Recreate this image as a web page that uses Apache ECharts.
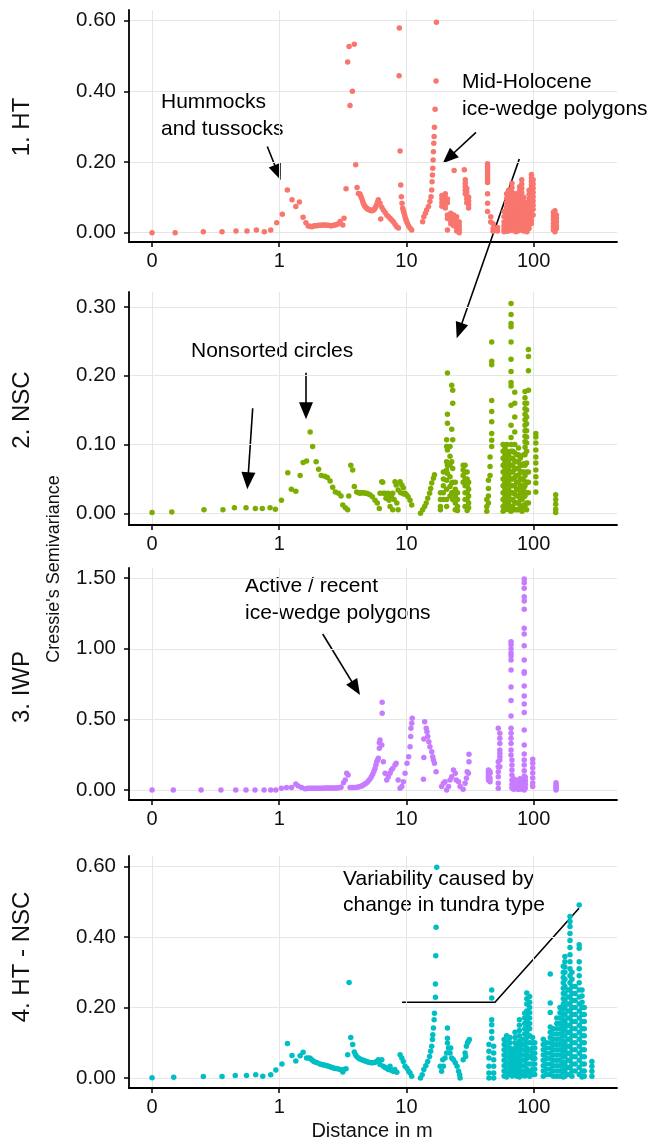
<!DOCTYPE html>
<html>
<head>
<meta charset="utf-8">
<script src="https://cdn.jsdelivr.net/npm/echarts@6/dist/echarts.min.js"></script>
<style>
  html, body { margin: 0; padding: 0; background: #fff; }
  #chart { width: 651px; height: 1143px; }
</style>
</head>
<body>
<div id="chart"></div>
<script>
// panel names, colours, ticks
const panelNames = ['1. HT', '2. NSC', '3. IWP', '4. HT - NSC'];
const panelColors = ['#F8766D', '#7CAE00', '#C77CFF', '#00BFC4'];
const xTicks = [0.1, 1, 10, 100];
const yTicks = [[0, 0.2, 0.4, 0.6], [0, 0.1, 0.2, 0.3], [0, 0.5, 1, 1.5], [0, 0.2, 0.4, 0.6]];
const yRanges = [[-0.0263, 0.630], [-0.017, 0.3216], [-0.0708, 1.572], [-0.0284, 0.630]];

// [distance, semivariance] single points, and columns [distance, [values]]
const htPoints = [
  [0.1, 0], [0.152, 0], [0.253, 0.003], [0.355, 0.003], [0.457, 0.005], [0.558, 0.005], [0.661, 0.008], [0.764, 0.003],
  [0.857, 0.008], [0.955, 0.028], [1.057, 0.052], [1.158, 0.121], [1.26, 0.093], [1.35, 0.074], [1.44, 0.087], [1.54, 0.044],
  [1.62, 0.028], [1.69, 0.019], [1.75, 0.018], [1.8, 0.017], [1.86, 0.019], [1.91, 0.02], [1.97, 0.02], [2.03, 0.021], [2.1, 0.021],
  [2.16, 0.021], [2.22, 0.022], [2.29, 0.022], [2.36, 0.021], [2.43, 0.021], [2.51, 0.02], [2.59, 0.02], [2.67, 0.021], [2.75, 0.022],
  [2.83, 0.023], [2.92, 0.025], [3.01, 0.032], [3.16, 0.022], [3.23, 0.041],
  [3.35, 0.124], [3.45, 0.483], [3.54, 0.527], [3.89, 0.533], [3.6, 0.36], [3.76, 0.4], [3.99, 0.192], [4.09, 0.128],
  [4.19, 0.111], [4.25, 0.11], [4.32, 0.109], [4.38, 0.103], [4.45, 0.097], [4.52, 0.09], [4.58, 0.083], [4.66, 0.078], [4.73, 0.074],
  [4.8, 0.071], [4.87, 0.069], [4.94, 0.067], [5.01, 0.066], [5.09, 0.065], [5.17, 0.064], [5.25, 0.063], [5.33, 0.062], [5.42, 0.063],
  [5.5, 0.064], [5.58, 0.066], [5.66, 0.069], [5.75, 0.074], [5.84, 0.079], [5.92, 0.086], [6.01, 0.093], [6.2, 0.083], [6.28, 0.039],
  [6.4, 0.072], [6.58, 0.064], [6.8, 0.057], [7.0, 0.05], [7.2, 0.046], [7.43, 0.041], [7.65, 0.036], [7.89, 0.031], [8.13, 0.024],
  [8.39, 0.017], [8.65, 0.013],
  [8.79, 0.579], [8.75, 0.444], [8.91, 0.231], [9.02, 0.135], [9.12, 0.102], [9.23, 0.083], [9.34, 0.069], [9.46, 0.062],
  [9.58, 0.055], [9.7, 0.048], [9.81, 0.041], [9.93, 0.036], [10.05, 0.031], [10.2, 0.025], [10.4, 0.019], [10.67, 0.013], [11.0, 0.008],
  [13.4, 0.031], [13.7, 0.045], [14.1, 0.055], [14.4, 0.064], [14.9, 0.074], [15.3, 0.088], [15.6, 0.102], [15.8, 0.121],
  [15.9, 0.144], [16.0, 0.163], [16.1, 0.182], [16.2, 0.206], [16.3, 0.229], [16.4, 0.253], [16.5, 0.272], [16.6, 0.298],
  [16.8, 0.349], [17.1, 0.429], [17.2, 0.595],
  [23.7, 0.176], [28.5, 0.178]
];
const htColumns = [
  [19.0, [0.105, 0.095, 0.085, 0.075]],
  [20.2, [0.11, 0.1, 0.09, 0.08, 0.07]],
  [21.0, [0.095, 0.085, 0.05, 0.04, 0.008]],
  [22.3, [0.055, 0.045, 0.035, 0.025]],
  [23.5, [0.05, 0.04, 0.03, 0.02]],
  [24.8, [0.045, 0.035, 0.025, 0.015, 0.005]],
  [26.0, [0.03, 0.02, 0.01, 0.0]],
  [29.0, [0.15, 0.14, 0.13, 0.12, 0.11]],
  [29.8, [0.125, 0.115, 0.105, 0.095, 0.085]],
  [30.8, [0.1, 0.09, 0.08, 0.07]],
  [43.4, [0.195, 0.187, 0.18, 0.172, 0.165, 0.157, 0.15, 0.142, 0.11, 0.083, 0.06]],
  [46.0, [0.045, 0.03]],
  [48.0, [0.025, 0.012, 0.004]],
  [52.0, [0.015, 0.005]],
  [58.5, [0.06, 0.045, 0.03, 0.02, 0.01, 0.003]],
  [61.3, [0.11, 0.097, 0.085, 0.072, 0.06, 0.048, 0.036, 0.024, 0.012, 0.004]],
  [63.4, [0.12, 0.107, 0.093, 0.08, 0.066, 0.053, 0.04, 0.027, 0.015, 0.005]],
  [65.5, [0.09, 0.078, 0.066, 0.054, 0.042, 0.03, 0.018, 0.007]],
  [67.5, [0.14, 0.128, 0.115, 0.103, 0.09, 0.078, 0.066, 0.054, 0.042, 0.03, 0.018, 0.006]],
  [70.0, [0.095, 0.082, 0.07, 0.058, 0.046, 0.034, 0.022, 0.01]],
  [72.5, [0.11, 0.098, 0.086, 0.074, 0.062, 0.05, 0.038, 0.026, 0.014, 0.003]],
  [75.0, [0.075, 0.063, 0.051, 0.039, 0.027, 0.015, 0.005]],
  [77.5, [0.13, 0.118, 0.106, 0.094, 0.082, 0.07, 0.058, 0.046, 0.034, 0.022, 0.01]],
  [80.6, [0.15, 0.138, 0.126, 0.114, 0.102, 0.09, 0.078, 0.066, 0.054, 0.042, 0.03, 0.018, 0.007]],
  [83.5, [0.1, 0.088, 0.076, 0.064, 0.052, 0.04, 0.028, 0.016, 0.005]],
  [86.0, [0.065, 0.053, 0.041, 0.029, 0.017, 0.006]],
  [88.5, [0.085, 0.073, 0.061, 0.049, 0.037, 0.025, 0.013, 0.003]],
  [92.0, [0.12, 0.108, 0.096, 0.084, 0.072, 0.06, 0.048, 0.036, 0.024, 0.012]],
  [96.0, [0.165, 0.155, 0.145, 0.135, 0.125, 0.115, 0.105, 0.095, 0.085, 0.075, 0.065, 0.055, 0.045, 0.035, 0.025]],
  [99.0, [0.15, 0.138, 0.126, 0.114, 0.102, 0.09, 0.078, 0.066, 0.05]],
  [143, [0.058, 0.047, 0.037, 0.027, 0.017, 0.008]],
  [147, [0.062, 0.05, 0.04, 0.03, 0.02, 0.01, 0.003]],
  [151, [0.05, 0.04, 0.03, 0.02, 0.012]]
];

const nscPoints = [
  [0.1, 0.001], [0.143, 0.002], [0.256, 0.005], [0.361, 0.005], [0.444, 0.008], [0.548, 0.008], [0.649, 0.007], [0.736, 0.007],
  [0.847, 0.008], [0.933, 0.006], [1.04, 0.019], [1.167, 0.059], [1.245, 0.035], [1.35, 0.032], [1.46, 0.055], [1.54, 0.074],
  [1.64, 0.076], [1.75, 0.118], [1.83, 0.097], [1.95, 0.075], [2.04, 0.064], [2.14, 0.055], [2.28, 0.054], [2.39, 0.052],
  [2.51, 0.047], [2.63, 0.038], [2.76, 0.031], [2.92, 0.029], [3.06, 0.025], [3.16, 0.012], [3.31, 0.008], [3.45, 0.005],
  [3.52, 0.025], [3.65, 0.07], [3.78, 0.063], [3.89, 0.039], [4.06, 0.031], [4.2, 0.03], [4.32, 0.029], [4.45, 0.03], [4.58, 0.03],
  [4.72, 0.029], [4.87, 0.029], [5.02, 0.028], [5.17, 0.027], [5.4, 0.024], [5.66, 0.019], [5.9, 0.015], [6.12, 0.007],
  [6.4, 0.046], [6.58, 0.029], [6.9, 0.022], [7.2, 0.029], [6.2, 0.029], [6.5, 0.045], [6.8, 0.029], [7.0, 0.024], [7.3, 0.019],
  [7.43, 0.01], [7.6, 0.024], [7.8, 0.029], [8.13, 0.046], [8.3, 0.041], [8.6, 0.034], [8.91, 0.046], [9.2, 0.041], [9.45, 0.037],
  [9.75, 0.029], [10.0, 0.027], [10.3, 0.024], [10.67, 0.019], [11.0, 0.012], [7.8, 0.005], [8.6, 0.005], [9.0, 0.03],
  [9.5, 0.028], [8.0, 0.02], [8.4, 0.015],
  [12.9, 0], [13.4, 0.005], [13.9, 0.01], [14.3, 0.015], [14.7, 0.022], [15.2, 0.029], [15.5, 0.036], [15.8, 0.044],
  [16.3, 0.051], [16.6, 0.056]
];
const nscColumns = [
  [18.5, [0.03, 0.02, 0.01, 0.005]],
  [19.5, [0.06, 0.05, 0.04, 0.03, 0.02]],
  [20.7, [0.107, 0.097, 0.075, 0.063, 0.048, 0.035, 0.02, 0.01]],
  [21.0, [0.204, 0.144, 0.131, 0.092, 0.07, 0.058]],
  [22.0, [0.097, 0.083, 0.07, 0.053, 0.039, 0.025]],
  [22.7, [0.186, 0.122, 0.075, 0.044, 0.03]],
  [23.1, [0.179, 0.16, 0.107, 0.065, 0.045, 0.03, 0.02]],
  [24.2, [0.045, 0.035, 0.025, 0.015, 0.005]],
  [25.2, [0.03, 0.02, 0.01, 0.004]],
  [27.9, [0.07, 0.063, 0.055, 0.045]],
  [28.9, [0.07, 0.06, 0.05, 0.04, 0.03, 0.02, 0.01]],
  [30.0, [0.06, 0.05, 0.04, 0.03, 0.02, 0.01, 0.004]],
  [30.8, [0.045, 0.035, 0.025, 0.015, 0.008]],
  [42.8, [0.02, 0.01, 0.003]],
  [44.1, [0.048, 0.036, 0.025, 0.015]],
  [45.4, [0.082, 0.068, 0.055]],
  [46.8, [0.249, 0.221, 0.216, 0.164, 0.148, 0.133, 0.116, 0.106, 0.097]],
  [57.5, [0.1, 0.09, 0.08, 0.07, 0.06, 0.05, 0.04, 0.03, 0.02, 0.01, 0.003]],
  [59.5, [0.095, 0.085, 0.075, 0.065, 0.055, 0.045, 0.035, 0.025, 0.015, 0.005]],
  [61.5, [0.1, 0.09, 0.08, 0.07, 0.06, 0.05, 0.04, 0.03, 0.02, 0.01]],
  [63.5, [0.085, 0.075, 0.065, 0.055, 0.045, 0.035, 0.025, 0.015, 0.005]],
  [66.4, [0.305, 0.289, 0.276, 0.271, 0.249, 0.224, 0.206, 0.19, 0.185, 0.157, 0.128, 0.11, 0.1, 0.09, 0.08, 0.07, 0.06, 0.05, 0.04, 0.03, 0.02, 0.01, 0.003]],
  [68.5, [0.09, 0.08, 0.07, 0.06, 0.05, 0.04, 0.03, 0.02, 0.01]],
  [71.0, [0.176, 0.16, 0.14, 0.118, 0.1, 0.088, 0.076, 0.064, 0.052, 0.04, 0.028, 0.016, 0.005]],
  [73.5, [0.085, 0.075, 0.065, 0.055, 0.045, 0.035, 0.025, 0.015, 0.005]],
  [76.0, [0.095, 0.085, 0.075, 0.065, 0.055, 0.045, 0.035, 0.025, 0.015, 0.005]],
  [78.5, [0.08, 0.07, 0.06, 0.05, 0.04, 0.03, 0.02, 0.01]],
  [81.0, [0.07, 0.06, 0.05, 0.04, 0.03, 0.02, 0.01, 0.003]],
  [83.5, [0.085, 0.072, 0.06, 0.048, 0.036, 0.024, 0.012]],
  [85.5, [0.177, 0.168, 0.16, 0.152, 0.144, 0.136, 0.128, 0.12, 0.112, 0.104, 0.096, 0.085, 0.07, 0.055, 0.04, 0.025, 0.01]],
  [88.0, [0.16, 0.15, 0.14, 0.13, 0.12, 0.111, 0.102, 0.09, 0.073, 0.06, 0.045, 0.03, 0.015, 0.005]],
  [91.0, [0.238, 0.228, 0.207, 0.179, 0.06, 0.045, 0.03, 0.015]],
  [104, [0.116, 0.111, 0.102, 0.092, 0.082, 0.073, 0.063, 0.053, 0.044, 0.031]],
  [149, [0.027, 0.02, 0.013, 0.006, 0.001]]
];

const iwpPoints = [
  [0.1, 0], [0.147, 0], [0.243, 0], [0.348, 0], [0.455, 0], [0.548, 0], [0.645, 0], [0.76, 0], [0.857, 0], [0.94, 0],
  [1.04, 0.012], [1.14, 0.017], [1.25, 0.017], [1.35, 0.042], [1.41, 0.028], [1.5, 0.017], [1.6, 0.009], [1.65, 0.011],
  [1.69, 0.012], [1.75, 0.012], [1.8, 0.012], [1.86, 0.012], [1.91, 0.012], [1.97, 0.012], [2.03, 0.012], [2.1, 0.012],
  [2.16, 0.012], [2.22, 0.013], [2.29, 0.014], [2.36, 0.014], [2.43, 0.014], [2.51, 0.014], [2.59, 0.014], [2.67, 0.014],
  [2.75, 0.014], [2.83, 0.015], [2.92, 0.016], [3.0, 0.018], [3.06, 0.02], [3.2, 0.052], [3.3, 0.071], [3.39, 0.118], [3.48, 0.106],
  [3.6, 0.017], [3.75, 0.017], [3.89, 0.017], [4.06, 0.019], [4.2, 0.021], [4.32, 0.024], [4.45, 0.029], [4.58, 0.035],
  [4.72, 0.043], [4.87, 0.052], [5.02, 0.064], [5.17, 0.078], [5.3, 0.094], [5.43, 0.111], [5.55, 0.132], [5.66, 0.153],
  [5.75, 0.177], [5.84, 0.2], [5.93, 0.212], [6.01, 0.224], [6.12, 0.295], [6.12, 0.335], [6.2, 0.354], [6.44, 0.543],
  [6.44, 0.621], [6.58, 0.2], [6.4, 0.319], [6.8, 0.118], [7.0, 0.071], [7.2, 0.094], [7.43, 0.118], [7.6, 0.142],
  [7.8, 0.153], [8.13, 0.177], [8.3, 0.189], [8.6, 0.071], [8.91, 0.012], [9.2, 0.024], [9.45, 0.059], [9.75, 0.118],
  [10.1, 0.189], [10.4, 0.236], [10.67, 0.307], [10.8, 0.378], [10.85, 0.437], [11.0, 0.472], [11.1, 0.508],
  [13.6, 0.076], [13.7, 0.231], [13.7, 0.361], [13.9, 0.484], [14.3, 0.437], [14.5, 0.413], [14.7, 0.378], [15.0, 0.342],
  [15.3, 0.307], [15.8, 0.271], [16.1, 0.236], [16.3, 0.212], [16.6, 0.189], [17.1, 0.13],
  [18.9, 0.024], [19.5, 0.047], [20.1, 0.059], [20.7, 0], [21.4, 0.024], [22.0, 0.071], [22.7, 0.094], [23.4, 0.142],
  [24.2, 0.118], [24.6, 0.071], [25.7, 0.059], [26.4, 0.024], [27.9, 0.005], [28.9, 0.047], [29.6, 0.083], [30.7, 0.118],
  [31.0, 0.2], [31.0, 0.253], [30.0, 0.13]
];
const iwpColumns = [
  [44.1, [0.142, 0.125, 0.106, 0.09, 0.071]],
  [45.4, [0.13, 0.118, 0.083, 0.059]],
  [52.7, [0.437, 0.2, 0.165, 0.13, 0.094, 0.047, 0.012]],
  [54.2, [0.401, 0.366, 0.33, 0.283, 0.26, 0.236, 0.212, 0.165]],
  [66.4, [1.05, 1.03, 1.0, 0.97, 0.95, 0.92, 0.85, 0.73, 0.633, 0.524, 0.437, 0.401, 0.366, 0.33, 0.283, 0.248]],
  [67.5, [0.212, 0.177, 0.142, 0.106, 0.071, 0.04, 0.015]],
  [69.5, [0.08, 0.06, 0.04, 0.02, 0.005]],
  [72.0, [0.07, 0.05, 0.03, 0.01]],
  [75.0, [0.06, 0.04, 0.02, 0.005]],
  [78.0, [0.08, 0.06, 0.04, 0.02, 0.005]],
  [81.0, [0.07, 0.05, 0.03, 0.01]],
  [84.3, [1.494, 1.468, 1.428, 1.369, 1.339, 1.28, 1.145, 1.105, 1.022, 0.92, 0.838, 0.826, 0.737, 0.666, 0.609, 0.548, 0.425, 0.319, 0.255, 0.212, 0.177, 0.137, 0.099, 0.071, 0.035, 0.0]],
  [86.0, [0.09, 0.065, 0.04, 0.015]],
  [98.3, [0.217, 0.19, 0.155, 0.12, 0.085, 0.05, 0.024]],
  [150, [0.052, 0.035, 0.024, 0.012, 0.0]]
];

const diffPoints = [
  [0.1, 0.001], [0.148, 0.002], [0.253, 0.004], [0.355, 0.004], [0.451, 0.007], [0.553, 0.007], [0.653, 0.009], [0.742, 0.005],
  [0.857, 0.009], [0.94, 0.023], [1.05, 0.04], [1.16, 0.098], [1.26, 0.064], [1.35, 0.048], [1.46, 0.063], [1.54, 0.073],
  [1.64, 0.057], [1.7, 0.057], [1.75, 0.056], [1.81, 0.051], [1.87, 0.047], [1.93, 0.045], [1.99, 0.043], [2.09, 0.04],
  [2.16, 0.038], [2.23, 0.037], [2.3, 0.036], [2.37, 0.035], [2.45, 0.033], [2.53, 0.031], [2.61, 0.03], [2.7, 0.028],
  [2.79, 0.027], [2.88, 0.026], [3.0, 0.024], [3.16, 0.017], [3.2, 0.024], [3.35, 0.026],
  [3.45, 0.066], [3.54, 0.271], [3.65, 0.115], [3.78, 0.095], [3.89, 0.074], [3.97, 0.067], [4.06, 0.061], [4.19, 0.057],
  [4.32, 0.054], [4.45, 0.052], [4.58, 0.05], [4.72, 0.048], [4.87, 0.047], [5.02, 0.045], [5.17, 0.044], [5.33, 0.043],
  [5.5, 0.043], [5.66, 0.045], [5.84, 0.047], [6.01, 0.052], [6.2, 0.038], [6.4, 0.052], [6.58, 0.033], [6.8, 0.03],
  [7.0, 0.028], [7.2, 0.024], [7.43, 0.024], [7.65, 0.021], [7.9, 0.019], [8.4, 0.016], [8.91, 0.066], [9.2, 0.057],
  [9.45, 0.047], [9.75, 0.033], [10.1, 0.028], [10.4, 0.019], [10.67, 0.014], [11.0, 0.005], [7.43, 0.033], [8.1, 0.024],
  [12.9, 0], [13.3, 0.009], [13.7, 0.024], [14.2, 0.035], [14.7, 0.047], [15.2, 0.061], [15.5, 0.076], [15.8, 0.09],
  [16.0, 0.109], [16.1, 0.123], [16.3, 0.142], [16.5, 0.165], [16.6, 0.184], [16.9, 0.229], [16.9, 0.267], [17.0, 0.347],
  [17.1, 0.428], [17.3, 0.598],
  [21.0, 0.142], [21.0, 0.113], [21.0, 0.099], [21.4, 0.085], [20.7, 0.071], [20.1, 0.057], [19.5, 0.033], [18.9, 0.019],
  [22.0, 0.071], [22.7, 0.057], [23.4, 0.052], [24.2, 0.043], [25.0, 0.033], [25.7, 0.019], [26.4, 0], [26.2, 0.009],
  [18.4, 0.033], [19.3, 0.052], [22.3, 0.085],
  [27.9, 0.052], [28.9, 0.071], [29.6, 0.09], [30.7, 0.104], [31.2, 0.109], [29.2, 0.061], [30.2, 0.1]
];
const diffColumns = [
  [46.8, [0.25, 0.227, 0.165, 0.151, 0.132, 0.113]],
  [44.5, [0.095, 0.076, 0.057, 0.033, 0.014, 0.0]],
  [48.5, [0.09, 0.071, 0.052, 0.033, 0.014, 0.0]],
  [58.6, [0.109, 0.095, 0.08, 0.065, 0.05, 0.035, 0.02, 0.006]],
  [61.3, [0.12, 0.105, 0.09, 0.075, 0.06, 0.045, 0.03, 0.015, 0.003]],
  [65.2, [0.115, 0.1, 0.085, 0.07, 0.055, 0.04, 0.025, 0.01]],
  [68.0, [0.08, 0.065, 0.05, 0.035, 0.02, 0.006]],
  [71.4, [0.13, 0.115, 0.1, 0.085, 0.07, 0.055, 0.04, 0.025, 0.01]],
  [74.0, [0.095, 0.08, 0.065, 0.05, 0.035, 0.02, 0.005]],
  [77.3, [0.165, 0.15, 0.135, 0.12, 0.105, 0.09, 0.075, 0.06, 0.045, 0.03, 0.015, 0.003]],
  [80.5, [0.11, 0.095, 0.08, 0.065, 0.05, 0.035, 0.02, 0.008]],
  [85.0, [0.184, 0.17, 0.155, 0.14, 0.125, 0.11, 0.095, 0.08, 0.065, 0.05, 0.035, 0.02, 0.006]],
  [88.3, [0.241, 0.225, 0.21, 0.19, 0.175, 0.16, 0.145, 0.13, 0.115, 0.1, 0.085, 0.07, 0.055, 0.04, 0.025, 0.01]],
  [93.0, [0.231, 0.215, 0.2, 0.185, 0.17, 0.155, 0.14, 0.12, 0.1, 0.08, 0.06, 0.04, 0.02, 0.005]],
  [98.0, [0.115, 0.1, 0.085, 0.07, 0.055, 0.04, 0.025, 0.01]],
  [102, [0.1, 0.085, 0.07, 0.055, 0.04, 0.025, 0.01]],
  [119, [0.11, 0.095, 0.08, 0.065, 0.05, 0.035, 0.02, 0.005]],
  [126.5, [0.1, 0.085, 0.07, 0.055, 0.04, 0.025, 0.01]],
  [135, [0.295, 0.213, 0.186, 0.145, 0.13, 0.115, 0.1, 0.085, 0.07, 0.055, 0.04, 0.025, 0.01]],
  [143, [0.14, 0.125, 0.11, 0.095, 0.08, 0.065, 0.05, 0.035, 0.02, 0.005]],
  [152, [0.17, 0.155, 0.14, 0.125, 0.11, 0.095, 0.08, 0.065, 0.05, 0.035, 0.02, 0.005]],
  [161, [0.2, 0.185, 0.17, 0.155, 0.14, 0.125, 0.11, 0.095, 0.08, 0.065, 0.05, 0.035, 0.02, 0.005]],
  [171, [0.317, 0.3, 0.285, 0.27, 0.255, 0.24, 0.225, 0.21, 0.195, 0.18, 0.165, 0.15, 0.135, 0.12, 0.105, 0.09, 0.075, 0.06, 0.045, 0.03, 0.015, 0.003]],
  [176, [0.345, 0.33, 0.315, 0.3, 0.28, 0.26, 0.24, 0.22, 0.2, 0.18, 0.16, 0.14, 0.12, 0.1, 0.08, 0.06, 0.04, 0.02, 0.005]],
  [186, [0.25, 0.23, 0.21, 0.19, 0.17, 0.15, 0.13, 0.11, 0.09, 0.07, 0.05, 0.03, 0.01]],
  [193, [0.458, 0.444, 0.43, 0.41, 0.39, 0.37, 0.35, 0.33, 0.31, 0.29, 0.27, 0.25, 0.23, 0.21, 0.19, 0.17, 0.15, 0.13, 0.11, 0.09, 0.07, 0.05, 0.03, 0.01]],
  [200, [0.3, 0.28, 0.26, 0.24, 0.22, 0.2, 0.18, 0.16, 0.14, 0.12, 0.1, 0.08, 0.06, 0.04, 0.02, 0.005]],
  [212, [0.26, 0.24, 0.22, 0.2, 0.18, 0.16, 0.14, 0.12, 0.1, 0.08, 0.06, 0.04, 0.02]],
  [228, [0.491, 0.378, 0.368, 0.33, 0.31, 0.29, 0.27, 0.25, 0.23, 0.21, 0.19, 0.17, 0.15, 0.13, 0.11, 0.09, 0.07, 0.05, 0.03, 0.01]],
  [240, [0.25, 0.233, 0.215, 0.2, 0.18, 0.16, 0.14, 0.12, 0.1, 0.08, 0.06, 0.04, 0.02, 0.003]],
  [250, [0.2, 0.18, 0.16, 0.14, 0.12, 0.1, 0.08, 0.06, 0.04, 0.02, 0.005]],
  [287, [0.047, 0.033, 0.019, 0.005]]
];

const FONT = '"Liberation Sans", Arial, Helvetica, sans-serif';

// flatten single points + columns into [x, y] pairs
const toData = (points, columns) =>
  points.concat(...columns.map(([d, vals]) => vals.map(v => [d, v])));

const panelData = [
  toData(htPoints, htColumns),
  toData(nscPoints, nscColumns),
  toData(iwpPoints, iwpColumns),
  toData(diffPoints, diffColumns)
];

// grid layout (pixels)
const gridTops = [10, 292, 568, 856];
const gridHeights = [232, 233, 232, 232];
const labelCenters = [127, 410, 687, 957];

const grids = gridTops.map((top, i) => ({
  left: 129, top: top, width: 488, height: gridHeights[i], containLabel: false
}));

const xAxes = gridTops.map((t, i) => ({
  type: 'log',
  logBase: 10,
  gridIndex: i,
  min: 0.0659,
  max: 452,
  axisLine: { show: true, onZero: false, lineStyle: { color: '#000', width: 1.8 } },
  axisTick: { show: true, length: 5, customValues: xTicks, lineStyle: { color: '#000', width: 1.5 } },
  axisLabel: {
    customValues: xTicks,
    formatter: v => (v < 0.5 ? '0' : String(Math.round(v))),
    fontSize: 20, color: '#111', fontFamily: FONT, margin: 9
  },
  splitLine: { show: true, lineStyle: { color: '#e6e6e6', width: 1 } },
  minorTick: { show: false },
  minorSplitLine: { show: false }
}));

const yAxes = gridTops.map((t, i) => ({
  type: 'value',
  gridIndex: i,
  min: yRanges[i][0],
  max: yRanges[i][1],
  axisLine: { show: true, onZero: false, lineStyle: { color: '#000', width: 1.8 } },
  axisTick: { show: true, length: 5, customValues: yTicks[i], lineStyle: { color: '#000', width: 1.5 } },
  axisLabel: {
    customValues: yTicks[i],
    formatter: v => v.toFixed(2),
    fontSize: 20.5, color: '#111', fontFamily: FONT, margin: 13
  },
  splitLine: { show: true, lineStyle: { color: '#e6e6e6', width: 1 } }
}));

const series = panelData.map((data, i) => ({
  type: 'scatter',
  xAxisIndex: i,
  yAxisIndex: i,
  data: data,
  symbol: 'circle',
  symbolSize: 5.5,
  itemStyle: { color: panelColors[i], opacity: 1 },
  emphasis: { disabled: true },
  silent: true
}));

// arrows and annotation text (pixel positions)
function arrow(x1, y1, x2, y2, len, half) {
  const a = Math.atan2(y2 - y1, x2 - x1);
  const bx = x2 - len * Math.cos(a), by = y2 - len * Math.sin(a);
  const px = -Math.sin(a) * half, py = Math.cos(a) * half;
  return [
    { type: 'line', silent: true, shape: { x1: x1, y1: y1, x2: bx + 2 * Math.cos(a), y2: by + 2 * Math.sin(a) },
      style: { stroke: '#000', lineWidth: 1.6 } },
    { type: 'polygon', silent: true, shape: { points: [[x2, y2], [bx + px, by + py], [bx - px, by - py]] },
      style: { fill: '#000' } }
  ];
}
function label(text, x, y, size, opts) {
  return Object.assign({
    type: 'text', silent: true, x: x, y: y,
    style: { text: text, fill: '#000', font: size + 'px ' + FONT, textAlign: 'left', textVerticalAlign: 'middle' }
  }, opts || {});
}

const graphics = [
  label('Hummocks', 161, 102.5, 21),
  label('and tussocks', 161, 129.5, 21),
  label('Mid-Holocene', 462, 82, 21),
  label('ice-wedge polygons', 462, 109, 21),
  label('Nonsorted circles', 191, 351, 21),
  label('Active / recent', 245, 586.5, 21),
  label('ice-wedge polygons', 245, 613, 21),
  label('Variability caused by', 343, 879.5, 21),
  label('change in tundra type', 343, 905.5, 21),
  ...arrow(267.3, 146.5, 280.7, 180, 16, 6.5),
  ...arrow(476, 132.3, 442.7, 163.3, 16, 6.5),
  ...arrow(519.3, 159, 456.7, 338.3, 16, 6.5),
  ...arrow(306, 372.7, 306, 419.3, 17, 7),
  ...arrow(252.7, 408.3, 247.3, 489.3, 17, 7),
  ...arrow(322.7, 634, 360, 695, 16, 6.5),
  { type: 'polyline', silent: true, shape: { points: [[402, 1002.3], [495, 1002.3], [579, 908.3]] },
    style: { stroke: '#000', lineWidth: 1.6, fill: null } },
  // facet labels, y title and x title
  ...panelNames.map((n, i) => ({
    type: 'text', silent: true, x: 22, y: labelCenters[i], rotation: Math.PI / 2,
    style: { text: n, fill: '#111', font: '24px ' + FONT, textAlign: 'center', textVerticalAlign: 'middle' }
  })),
  { type: 'text', silent: true, x: 54, y: 569, rotation: Math.PI / 2,
    style: { text: "Cressie's Semivariance", fill: '#111', font: '18px ' + FONT, textAlign: 'center', textVerticalAlign: 'middle' } },
  { type: 'text', silent: true, x: 372, y: 1131,
    style: { text: 'Distance in m', fill: '#111', font: '20px ' + FONT, textAlign: 'center', textVerticalAlign: 'middle' } }
];

const chart = echarts.init(document.getElementById('chart'), null, { renderer: 'canvas' });
chart.setOption({
  animation: false,
  backgroundColor: '#fff',
  grid: grids,
  xAxis: xAxes,
  yAxis: yAxes,
  series: series,
  graphic: { elements: graphics }
});
window.addEventListener('resize', () => chart.resize());
</script>
</body>
</html>
